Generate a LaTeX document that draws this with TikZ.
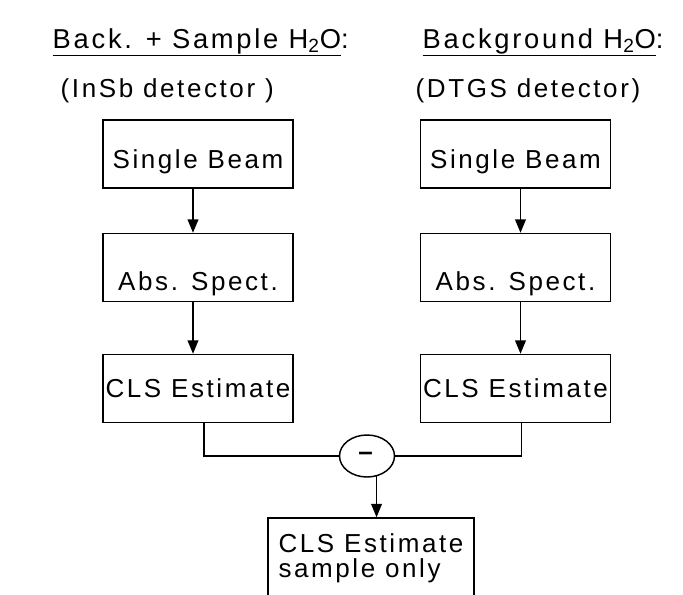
\documentclass[tikz,border=0pt]{standalone}
\usepackage{fontspec}
\setmainfont{Liberation Sans}[LetterSpace=10]
\usetikzlibrary{arrows.meta, positioning, shapes.geometric}

\begin{document}
\begin{tikzpicture}[x=0.75pt, y=-0.75pt, line width=1.1pt,
    every node/.style={font=\fontsize{19.5}{19}\selectfont, inner sep=0pt},
    stepbox/.style={draw, minimum width=142.5pt, minimum height=51pt,
                    text height=#1, text depth=0pt},
    arr/.style={-{Triangle[length=10pt, width=8pt]}}]
    \useasboundingbox (0,0) rectangle (683,594);
    \clip (0,0) rectangle (683,594);
    \node[anchor=base west, font=\fontsize{20.5}{23}\selectfont] (titleL) at (52,48)
        {\underline{Back. + Sample H\textsubscript{2}O}:};
    \node[anchor=base west, font=\fontsize{20.5}{23}\selectfont] (titleR) at (422,48)
        {\underline{Background H\textsubscript{2}O}:};
    \node[anchor=base west] (detL) at (60,97) {(InSb detector )};
    \node[anchor=base west] (detR) at (415,97) {(DTGS detector)};
    \node[stepbox=21pt] (beamL) at (198,154) {Single Beam};
    \node[stepbox=33.75pt] (absL) at (198,267.5) {Abs. Spect.};
    \node[stepbox=14pt] (clsL) at (198,388.5) {CLS Estimate};
    \node[stepbox=21pt] (beamR) at (515.5,154) {Single Beam};
    \node[stepbox=33.75pt] (absR) at (515.5,267.5) {Abs. Spect.};
    \node[stepbox=14pt] (clsR) at (515.5,388.5) {CLS Estimate};
    \node[draw, ellipse, minimum width=41.25pt, minimum height=31.5pt] (minus) at (367,456) {\textbf{--}};
    \node[draw, minimum width=154.5pt, minimum height=60pt, align=left] (est) at (371,558)
        {CLS Estimate\\sample only};
    \draw[arr] ([xshift=-3.75pt]beamL.south) -- ([xshift=-3.75pt]absL.north);
    \draw[arr] ([xshift=-3.75pt]absL.south) -- ([xshift=-3.75pt]clsL.north);
    \draw[arr] ([xshift=3.75pt]beamR.south) -- ([xshift=3.75pt]absR.north);
    \draw[arr] ([xshift=3.75pt]absR.south) -- ([xshift=3.75pt]clsR.north);
    \draw ([xshift=4.5pt]clsL.south) |- (minus.west);
    \draw ([xshift=4.5pt]clsR.south) |- (minus.east);
    \draw[arr] (minus.-65) -- (minus.-65 |- est.north);
\end{tikzpicture}
\end{document}
